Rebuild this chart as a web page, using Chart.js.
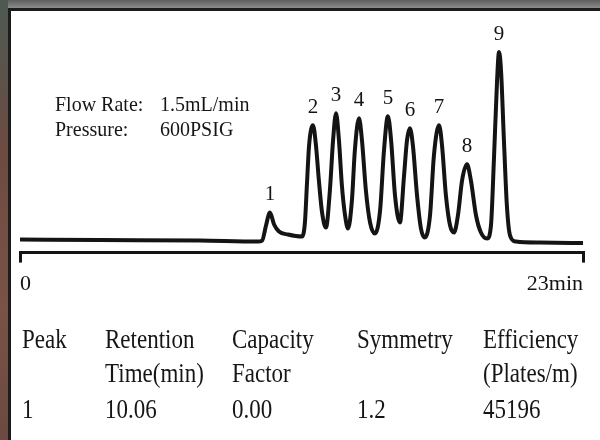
<!DOCTYPE html>
<html>
<head>
<meta charset="utf-8">
<script src="https://cdn.jsdelivr.net/npm/chart.js@4.4.1/dist/chart.umd.min.js"></script>
<style>
  html, body { margin: 0; padding: 0; }
  body { width: 600px; height: 440px; position: relative; overflow: hidden; background: #777; }
  #topband { position: absolute; left: 0; top: 0; width: 600px; height: 8px;
    background: linear-gradient(to bottom, #5e5e5e, #8c8c8c); }
  #leftband { position: absolute; left: 0; top: 0; width: 8px; height: 440px;
    background: linear-gradient(to bottom, #4d5a52 0%, #6d4b42 35%, #7a5246 70%, #6a4a42 100%); }
  #panel { position: absolute; left: 8px; top: 8px; width: 592px; height: 432px; box-sizing: border-box;
    background: #fff; border-top: 3px solid #1c1c1c; border-left: 3px solid #1c1c1c; }
  #chart { position: absolute; left: 0; top: 0; }
  .txt { position: absolute; font-family: "Liberation Serif", serif; color: #161616; white-space: nowrap;
    line-height: 1; }
  .cond { font-size: 20px; transform: scaleY(1.1); transform-origin: left center; }
  .cell { font-size: 23px; transform: scaleY(1.2); transform-origin: left center; }
</style>
</head>
<body>
<div id="topband"></div>
<div id="leftband"></div>
<div id="panel"></div>
<canvas id="chart" width="600" height="440"></canvas>

<div class="txt cond" style="left:55px; top:93px;">Flow Rate:</div>
<div class="txt cond" style="left:160px; top:93px;">1.5mL/min</div>
<div class="txt cond" style="left:55px; top:118px;">Pressure:</div>
<div class="txt cond" style="left:160px; top:118px;">600PSIG</div>

<div id="table"></div>

<script>
// retention time (min) and detector signal
var times = [
    0, 3.27, 7.35, 9.72, 9.89, 10.05, 10.21, 10.38, 10.58, 10.95, 11.52,
    11.64, 11.72, 11.81, 11.97, 12.09, 12.21, 12.34, 12.50,
    12.66, 12.79, 12.91, 13.03, 13.15, 13.28, 13.40,
    13.56, 13.68, 13.85, 13.97, 14.13, 14.30, 14.50,
    14.71, 14.87, 15.03, 15.16, 15.32, 15.52,
    15.69, 15.81, 15.93, 16.05, 16.22, 16.38, 16.54,
    16.75, 16.91, 17.12, 17.24, 17.40, 17.57, 17.73,
    17.89, 18.06, 18.26, 18.42, 18.63, 18.83, 19.08,
    19.24, 19.36, 19.49, 19.57, 19.65, 19.77, 19.89, 20.02, 20.26, 21.24, 23
];
var signal = [
    1, 0.5, 0, -1, 0, 15, 28, 16, 9, 6, 4,
    18, 55, 95, 115, 95, 60, 28, 13,
    50, 100, 127, 100, 55, 25, 12,
    40, 90, 122, 100, 50, 18, 7,
    30, 90, 124, 100, 45, 18,
    65, 100, 112, 95, 45, 12, 3,
    25, 85, 115, 95, 45, 15, 8,
    25, 60, 76, 60, 25, 8, 2,
    15, 80, 160, 188, 170, 100, 35, 5, -1, -2, -2.5
];

var peakLabels = ['1', '2', '3', '4', '5', '6', '7', '8', '9'];
var peakTimes = [10.21, 11.97, 12.91, 13.85, 15.03, 15.93, 17.12, 18.26, 19.57];

var xTicks = [0, 23];
var xTickLabels = ['0', '23min'];

var tableHeader1 = ['Peak', 'Retention', 'Capacity', 'Symmetry', 'Efficiency'];
var tableHeader2 = ['', 'Time(min)', 'Factor', '', '(Plates/m)'];
var tableRow1 = ['1', '10.06', '0.00', '1.2', '45196'];

var INK = '#141414';

// table text under the chart
var colX = [22, 105, 232, 357, 483];
var rowY = [327, 361, 397];
var rows = [tableHeader1, tableHeader2, tableRow1];
var table = document.getElementById('table');
rows.forEach(function (row, r) {
    row.forEach(function (text, c) {
        if (!text) return;
        var d = document.createElement('div');
        d.className = 'txt cell';
        d.style.left = colX[c] + 'px';
        d.style.top = rowY[r] + 'px';
        d.textContent = text;
        table.appendChild(d);
    });
});

var peakLabelPlugin = {
    id: 'peakLabels',
    afterDatasetsDraw: function (chart) {
        var ctx = chart.ctx;
        var xs = chart.scales.x, ys = chart.scales.y;
        ctx.save();
        ctx.fillStyle = INK;
        ctx.font = '21px "Liberation Serif"';
        ctx.textAlign = 'center';
        ctx.textBaseline = 'middle';
        peakLabels.forEach(function (label, i) {
            var j = times.indexOf(peakTimes[i]);
            var px = xs.getPixelForValue(peakTimes[i]);
            var py = ys.getPixelForValue(signal[j]) - 18;
            ctx.fillText(label, px, py);
        });
        ctx.restore();
    }
};

new Chart(document.getElementById('chart'), {
    type: 'line',
    data: {
        datasets: [{
            data: times.map(function (t, i) { return {x: t, y: signal[i]}; }),
            borderColor: INK,
            borderWidth: 4,
            pointRadius: 0,
            fill: false,
            cubicInterpolationMode: 'monotone'
        }]
    },
    options: {
        responsive: false,
        animation: false,
        layout: {padding: {left: 20, right: 17, top: 40, bottom: 135}},
        plugins: {legend: {display: false}, tooltip: {enabled: false}},
        scales: {
            x: {
                type: 'linear',
                min: 0,
                max: 23,
                afterBuildTicks: function (scale) {
                    scale.ticks = xTicks.map(function (v) { return {value: v}; });
                },
                grid: {display: true, drawOnChartArea: false, drawTicks: true, tickLength: 10,
                       color: INK, lineWidth: 3},
                border: {display: true, color: INK, width: 3},
                ticks: {
                    align: 'inner',
                    autoSkip: false,
                    maxRotation: 0,
                    padding: 8,
                    color: INK,
                    font: {family: 'Liberation Serif', size: 22},
                    callback: function (value) {
                        return xTickLabels[xTicks.indexOf(value)];
                    }
                }
            },
            y: {display: false, min: -12, max: 200}
        }
    },
    plugins: [peakLabelPlugin]
});
</script>
</body>
</html>
